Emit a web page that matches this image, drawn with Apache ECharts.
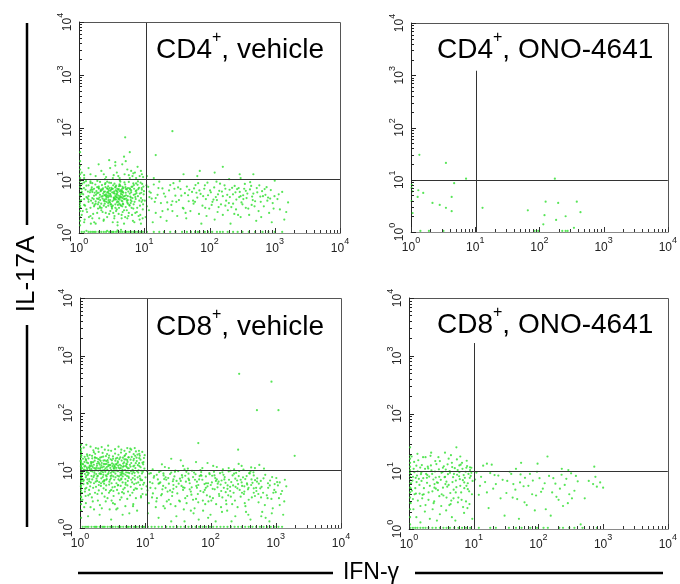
<!DOCTYPE html>
<html><head><meta charset="utf-8">
<script src="https://cdn.jsdelivr.net/npm/echarts@6/dist/echarts.min.js"></script>
<style>html,body{margin:0;padding:0;background:#fff}#c{width:680px;height:584px}</style>
</head><body><div id="c"></div>
<script>
// ---------- data ----------
const decadeTicks = [1, 10, 100, 1000, 10000];
const decadeExponents = ['0', '1', '2', '3', '4'];
const minorTickValues = [2,3,4,5,6,7,8,9,20,30,40,50,60,70,80,90,200,300,400,500,600,700,800,900,2000,3000,4000,5000,6000,7000,8000,9000];
const panelCellType = ['CD4', 'CD4', 'CD8', 'CD8'];
const panelTreatment = ['vehicle', 'ONO-4641', 'vehicle', 'ONO-4641'];
const gateIFN = [10.6, 10.3, 10.7, 10.3];
const gateIL17 = [10.6, 10.0, 10.0, 10.0];
const gateVerticalTop = [10000, 1220, 10000, 1660];

// cells: [IFN-γ, IL-17A]
const cd4VehicleLowLeft = [
[1.1,2.2],[1.2,3.4],[1.1,5.6],[1.3,7.9],[1.2,1.6],[1.4,4.3],[1.5,6.4],[1.3,2.8],[1.6,8.8],[1.5,3.0],
[1.7,5.1],[1.6,1.9],[1.8,4.0],[1.7,6.9],[1.9,2.4],[1.8,3.6],[1.9,7.4],[1.2,9.1],[1.4,5.0],[1.6,4.6],
[1.1,6.8],[1.3,4.8],[1.5,2.1],[1.7,3.2],[1.9,5.7],[1.4,8.0],[1.8,1.5],[1.2,4.4],[1.6,6.0],[1.5,9.5],
[2.0,3.8],[2.1,5.3],[2.2,2.7],[2.3,6.6],[2.4,4.1],[2.5,8.4],[2.6,3.1],[2.7,5.9],[2.8,4.7],[2.9,2.3],
[3.0,6.3],[3.1,3.5],[2.0,7.2],[2.2,4.9],[2.4,1.8],[2.6,5.4],[2.8,7.7],[3.0,4.2],[3.2,2.9],[2.1,3.0],
[2.3,4.5],[2.5,6.1],[2.7,2.0],[2.9,5.0],[3.1,8.9],[2.0,5.8],[2.2,6.7],[2.4,3.3],[2.6,4.4],[2.8,3.7],
[3.0,5.5],[3.2,6.8],[2.1,9.3],[2.3,2.5],[2.5,4.0],[2.7,7.0],[2.9,3.9],[3.1,4.9],[2.5,5.2],[2.8,6.0],
[3.3,3.3],[3.4,5.7],[3.5,4.5],[3.6,7.3],[3.7,2.6],[3.8,6.2],[3.9,4.0],[4.0,5.1],[4.1,3.0],[4.2,8.1],
[4.3,4.7],[4.4,6.5],[4.5,2.2],[4.6,5.3],[4.7,3.6],[4.8,7.1],[4.9,4.4],[3.3,6.9],[3.5,2.1],[3.7,4.8],
[3.9,5.9],[4.1,7.7],[4.3,3.4],[4.5,4.1],[4.7,6.0],[4.9,2.7],[3.4,4.2],[3.6,5.0],[3.8,3.8],[4.0,6.6],
[4.2,4.3],[4.4,5.5],[4.6,3.2],[4.8,4.9],[3.5,8.6],[3.9,1.6],[4.3,9.4],[4.6,6.9],[3.6,3.5],[4.1,4.6],
[5.0,5.0],[5.2,3.1],[5.4,6.7],[5.6,4.2],[5.8,2.4],[6.0,5.6],[6.2,3.7],[6.4,7.5],[6.6,4.6],[6.8,2.9],
[5.1,8.3],[5.3,4.5],[5.5,1.9],[5.7,6.1],[5.9,3.4],[6.1,4.9],[6.3,6.4],[6.5,2.2],[6.9,5.3],[5.2,5.8],
[5.6,3.6],[6.0,7.0],[6.4,4.0],[6.8,8.7],[5.4,2.7],
[7.1,3.9],[7.4,6.2],[7.7,2.5],[8.0,5.0],[8.3,7.2],[8.6,3.3],[8.9,4.6],[9.2,6.6],[9.5,2.8],[9.8,5.4],
[7.3,4.8],[7.9,8.2],[8.5,1.8],[9.1,3.9],[9.7,7.6],[7.6,5.7],[8.2,2.1],[8.8,9.0],[9.4,4.2],[7.0,6.9],
[2.05,4.7],[2.35,5.6],[2.65,3.9],[3.05,5.2],[3.25,4.0],[3.45,6.1],[3.75,5.3],[3.95,3.4],[4.25,5.0],[4.55,6.3],
[2.15,6.2],[2.45,4.3],[2.75,5.1],[3.15,3.2],[3.55,4.4],[3.85,6.9],[4.15,3.6],[4.45,4.8],[4.75,5.8],[5.05,4.4],
[1.95,3.5],[2.55,7.4],[2.85,6.5],[3.35,2.4],[3.65,6.4],[4.05,2.3],[4.65,7.5],[5.25,6.8],[5.6,5.0],[6.2,4.2],
[1.08,4.2],[1.19,7.1],[1.33,2.5],[1.47,5.9],[1.62,3.7],[1.78,8.3],[1.96,2.9],[2.16,6.4],[2.38,1.7],[2.63,4.8],
[2.9,9.0],[3.2,3.1],[3.53,5.6],[3.9,1.4],[4.3,7.8],[4.75,3.5],[5.25,5.2],[5.8,9.3],[6.4,3.0],[7.05,1.6],
[1.12,8.6],[1.24,3.3],[1.37,6.1],[1.52,1.5],[1.68,4.4],[1.85,6.2],[2.04,1.9],[2.25,8.1],[2.48,3.6],[2.74,6.9],
[3.02,2.6],[3.34,8.0],[3.68,4.3],[4.07,6.8],[4.5,1.9],[4.97,9.1],[5.5,3.8],[6.07,6.7],[6.7,1.7],[7.4,4.4],
[1.05,3.0],[1.16,5.4],[1.28,9.6],[1.42,2.0],[1.57,7.3],[1.73,3.4],[1.91,9.7],[2.11,4.2],[2.33,7.0],[2.57,2.4],
[2.84,5.6],[3.14,7.2],[3.47,1.9],[3.83,4.7],[4.23,9.9],[4.67,2.5],[5.16,7.4],[5.7,2.1],[6.3,5.9],[6.95,8.1],
[1.1,6.0],[1.22,1.8],[1.35,4.6],[1.5,8.9],[1.65,2.3],[1.82,5.3],[2.01,7.6],[2.22,3.0],[2.45,5.2],[2.7,9.4],
[2.98,3.8],[3.29,1.6],[3.63,7.5],[4.01,3.9],[4.43,6.0],[4.9,1.5],[5.41,4.1],[5.97,3.3],[6.6,7.6],[7.3,2.4],
[1.14,2.6],[1.26,6.6],[1.4,3.9],[1.55,6.7],[1.71,1.6],[1.89,4.5],[2.09,3.2],[2.3,5.0],[2.54,8.8],[2.81,3.3],
[3.1,6.6],[3.43,4.6],[3.79,2.8],[4.18,8.4],[4.62,4.0],[5.1,2.0],[5.63,7.1],[6.23,4.7],[6.88,3.5],[7.6,6.4],
[7.8,3.0],[8.1,6.8],[8.4,4.1],[8.7,2.2],[9.0,5.8],[9.3,8.5],[9.6,3.5],[9.9,6.2],[8.0,9.5],[8.9,1.5],
[7.5,8.7],[9.45,1.9],[7.25,5.4],[8.55,5.6],[9.15,7.1],
[1.53,4.1],[1.74,5.8],[1.98,4.4],[2.19,3.6],[2.41,6.0],[2.61,5.0],[2.83,4.2],[3.04,3.5],[3.22,5.9],[3.41,4.7],
[3.61,3.0],[3.81,5.5],[4.02,4.4],[4.22,6.2],[4.41,3.3],[4.63,4.6],[1.62,6.6],[2.02,6.9],[2.93,7.1],[3.71,7.9]
];
const cd4VehicleEdges = [
[1.04,1.4],[1.04,2.0],[1.04,2.6],[1.04,3.3],[1.04,4.1],[1.04,4.9],[1.04,5.8],[1.04,6.9],[1.04,8.1],[1.04,9.6],
[1.04,11],[1.04,13],[1.04,16],[1.04,19],[1.04,1.7],[1.04,3.7],[1.04,7.5],[1.04,23],[1.04,5.3],[1.04,3.0],
[1.1,1.05],[1.2,1.05],[1.4,1.05],[1.5,1.05],[1.7,1.05],[1.8,1.05],[2.0,1.05],[2.2,1.05],[2.4,1.05],[2.6,1.05],
[2.9,1.05],[3.1,1.05],[3.4,1.05],[3.7,1.05],[4.0,1.05],[4.3,1.05],[4.6,1.05],[5.0,1.05],[5.4,1.05],[5.8,1.05],
[6.3,1.05],[6.8,1.05],[7.4,1.05],[8.0,1.05],[8.7,1.05],[9.5,1.05],[3.9,1.12],[4.4,1.15],[1.3,1.1],[2.7,1.1],
[11,1.05],[14,1.05],[17,1.05],[20,1.05],[25,1.05],[30,1.05],[38,1.05],[45,1.05],[52,1.05],[60,1.05],
[70,1.05],[85,1.05],[95,1.05],[110,1.05],[130,1.05],[160,1.05],[190,1.05],[230,1.05],[270,1.05],[320,1.05],
[400,1.05],[500,1.05],[650,1.05],[800,1.05],[1000,1.05],[1300,1.05],[1.6,1.05],[3.3,1.05],[66,1.05],[145,1.05]
];
const cd4VehicleHigh = [
[1.2,11],[1.5,13],[1.8,12],[2.2,15],[2.6,11.5],[3.0,17],[3.4,12.5],[3.8,14],[4.2,11],[4.6,20],
[5.0,13],[5.5,16],[6.0,11],[6.6,12],[7.2,14],[7.9,18],[8.5,12],[9.2,13],[1.4,17],[2.0,20],
[2.9,24],[3.6,19],[4.9,28],[6.3,15],[7.5,11],[8.9,15],[5.2,23],[6.8,13.5],[4.0,12],[2.4,13],
[1.1,14],[9.6,11.5],[1.2,12.5],[2.5,10.5],[3.3,11],[5.8,12.5],
[11,12],[14,11],[65,12],[71,15],[160,18],[470,13],[290,13],[1000,9.8],[300,11],[200,10.5],[40,13],[120,14],
[5.1,65],[27,85],[1.04,34],[6,34],[15,30],[3.6,22]
];
const cd4VehicleLowRight = [
[11,3.2],[12,6.1],[13,4.5],[14,8.3],[15,2.4],[16,5.3],[18,3.7],[19,7.0],[21,4.9],[23,2.8],
[24,6.4],[26,3.4],[28,8.8],[30,5.1],[32,2.1],[34,4.2],[36,6.8],[39,3.0],[42,5.7],[45,7.6],
[48,4.0],[51,2.6],[54,6.0],[57,3.6],[61,8.1],[65,4.7],[69,2.3],[73,5.5],[78,3.3],[83,6.9],
[88,4.4],[93,9.0],[99,2.9],[105,5.9],[111,3.9],[118,7.3],[125,4.8],[133,2.5],[141,6.3],[150,3.5],
[160,5.0],[170,8.0],[180,4.1],[191,2.7],[203,6.6],[216,3.1],[229,5.4],[243,7.8],[258,4.3],[274,2.2],
[291,6.0],[309,3.8],[328,5.2],[348,8.5],[370,4.6],[393,2.9],[417,6.7],[443,3.4],[470,5.6],[500,4.0],
[530,7.1],[565,2.6],[600,4.9],[640,6.2],[680,3.2],[720,5.3],[770,4.1],[820,2.4],[870,6.5],[930,3.7],
[990,5.0],[1100,4.4],[1200,2.8],[1400,1.8],[1600,3.8],[1300,6.0],
[10.5,2.0],[11.5,7.5],[13.5,1.6],[17,9.4],[22,1.7],[27,4.0],[35,9.6],[44,1.9],[58,7.0],[75,1.5],
[95,5.2],[120,1.8],[145,8.6],[175,6.9],[210,1.5],[250,5.9],[300,2.0],[360,3.0],[420,9.2],[520,1.7],
[620,2.0],[750,7.4],[900,1.6],[130,4.2],[230,3.6],[330,4.4],[63,5.8],[40,2.9],[86,3.0],[160,2.2],
[280,7.1],[450,4.9],[29,6.9],[19,2.6],[12,4.8],
[10.2,4.1],[10.8,8.0],[11.8,2.7],[12.6,5.8],[14.5,3.9],[16.5,7.1],[17.8,2.0],[20,5.6],[22.5,3.8],[25,8.1],
[31,3.9],[37,5.1],[43,2.4],[49,6.6],[56,4.1],[67,8.8],[80,5.0],[90,2.1],[102,6.4],[115,4.3],
[128,9.4],[138,3.1],[155,6.1],[187,5.3],[198,3.7],[222,7.2],[240,2.3],[265,6.8],[285,4.8],[320,3.5],
[340,6.9],[380,5.6],[405,2.2],[435,7.8],[490,3.2],[540,5.9],[610,3.9],[700,6.8],[790,4.7],[960,2.9],
[15,4.6],[27,2.6],[33,7.3],[47,5.2],[60,3.9],[70,6.4],[85,8.0],[108,3.4],[135,5.4],[175,3.3],
[205,4.8],[255,2.8],[300,5.0],[360,6.3],[460,4.2],[580,8.0],[660,5.0],[850,4.5],[1150,5.4],[1500,2.5]
];

const cd4Ono = [
[1.35,30],[3.5,21],[7.2,10.5],[4.7,8.6],[1.03,8.0],[1.05,6.0],[1.3,6.3],[1.55,5.6],[1.27,4.7],[1.02,3.9],
[2.16,3.6],[2.8,3.3],[4.3,4.7],[3.5,2.9],[4.3,2.5],[1.06,2.3],[13,2.9],[66,2.6],[125,3.8],[196,3.6],
[382,3.8],[436,2.4],[120,2.1],[182,1.7],[256,2.0],[115,1.4],[345,1.2],[174,10.5],[1.9,1.05],[3.2,1.05],
[1.4,1.05],[84,1.05],[96,1.05],[227,1.05],[256,1.05],[275,1.05],[1.02,7.0]
];

const cd8VehicleLowLeft = [
[1.06,8.3],[1.24,15.1],[1.52,3.4],[1.93,21],[2.35,6.6],[2.9,12.5],[3.6,2.1],[4.5,9.8],[5.6,17],[7.1,4.9],
[1.12,12.8],[1.38,4.6],[1.71,19.5],[2.12,7.3],[2.62,10.4],[3.2,2.7],[4.0,15.8],[5.0,5.7],[6.3,8.8],[8.0,22],
[1.03,5.3],[1.29,10.6],[1.61,7.7],[2.02,2.5],[2.5,17.8],[3.05,8.2],[3.8,13.6],[4.7,4.0],[5.9,24],[7.5,9.7],
[1.18,17.3],[1.46,6.2],[1.82,12.1],[2.25,9.3],[2.78,4.1],[3.45,19.7],[4.3,7.2],[5.3,15.2],[6.7,4.6],[8.5,11.4],
[1.09,3.1],[1.33,13.4],[1.66,9.1],[2.07,14.7],[2.56,7.9],[3.15,5.1],[3.9,11.2],[4.9,18.4],[6.1,6.9],[7.8,6.2],
[1.21,10.1],[1.5,8.0],[1.88,14.2],[2.3,4.9],[2.85,12.3],[3.55,16.1],[4.4,9.0],[5.45,4.3],[6.9,8.1],[9.0,21],
[1.14,6.8],[1.41,18.6],[1.76,5.2],[2.18,11.3],[2.7,13.9],[3.35,6.9],[4.15,9.2],[5.15,13.1],[6.5,2.4],[8.2,8.0],
[1.27,13.8],[1.57,2.9],[1.97,6.3],[2.43,12.9],[3.0,10.2],[3.75,8.1],[4.6,4.7],[5.75,21],[7.3,6.0],[9.4,14.0],
[1.04,21.5],[1.36,9.0],[1.69,17.0],[2.1,6.0],[2.6,19.3],[3.25,4.4],[4.05,10.8],[5.05,12.0],[6.4,10.3],[8.8,4.8],
[1.16,2.3],[1.44,11.8],[1.79,7.2],[2.22,20.2],[2.74,9.0],[3.4,11.6],[4.25,20.5],[5.25,8.0],[6.6,15.0],[8.4,7.2],
[1.23,7.6],[1.54,16.3],[1.91,9.9],[2.38,3.5],[2.95,15.7],[3.65,10.0],[4.5,6.2],[5.6,10.9],[7.0,18.0],[9.2,9.5],
[1.08,11.0],[1.31,5.9],[1.63,12.6],[2.04,16.8],[2.52,5.5],[3.1,13.3],[3.85,5.6],[4.8,15.6],[6.0,5.2],[7.7,12.4],
[1.19,4.3],[1.48,13.1],[1.85,3.9],[2.28,8.4],[2.82,6.4],[3.5,7.6],[4.35,14.9],[5.4,6.6],[6.8,12.2],[8.6,3.4],
[1.11,16.0],[1.39,7.1],[1.73,10.7],[2.15,13.5],[2.66,8.6],[3.3,9.4],[4.1,3.1],[5.1,9.3],[6.45,7.4],[8.1,16.4],
[1.26,9.4],[1.59,5.0],[1.99,15.4],[2.46,10.9],[3.05,3.0],[3.8,14.4],[4.7,11.9],[5.85,3.7],[7.4,14.6],[9.6,6.1],
[1.02,14.6],[1.34,3.7],[1.68,14.8],[2.09,5.4],[2.58,11.5],[3.2,17.6],[3.95,7.9],[4.95,7.1],[6.2,17.2],[7.9,10.1],
[1.13,5.8],[1.42,10.2],[1.77,8.7],[2.2,10.0],[2.72,22.5],[3.38,12.0],[4.2,5.4],[5.2,11.5],[6.55,9.5],[8.3,5.6],
[1.28,19.0],[1.55,9.6],[1.94,4.5],[2.4,15.0],[2.98,7.3],[3.7,4.6],[4.55,16.7],[5.7,9.0],[7.2,3.3],[9.3,12.8],
[1.07,9.9],[1.3,7.0],[1.65,11.0],[2.05,8.9],[2.54,14.5],[3.12,9.6],[3.88,18.8],[4.85,5.0],[6.1,13.5],[7.6,18.9],
[1.2,12.0],[1.47,14.0],[1.83,6.6],[2.27,17.5],[2.8,5.7],[3.48,14.8],[4.32,8.5],[5.35,14.1],[6.75,5.8],[8.7,9.9],
[1.1,7.1],[1.37,11.4],[1.7,4.1],[2.13,12.3],[2.64,3.3],[3.28,11.1],[4.08,12.6],[5.08,19.5],[6.35,4.1],[8.05,13.4],
[1.25,5.0],[1.53,18.0],[1.9,10.9],[2.36,6.8],[2.92,11.1],[3.62,6.0],[4.48,10.4],[5.55,7.8],[7.05,11.0],[9.1,3.9],
[1.05,18.2],[1.32,8.4],[1.64,6.0],[2.03,10.7],[2.5,8.2],[3.08,15.0],[3.82,9.7],[4.75,13.8],[5.95,11.7],[7.65,7.6],
[1.17,11.7],[1.45,2.3],[1.8,16.5],[2.24,7.7],[2.76,16.6],[3.42,2.6],[4.28,7.0],[5.3,3.2],[6.7,16.0],[8.45,15.4],
[1.22,3.6],[1.51,12.2],[1.87,8.1],[2.32,13.0],[2.88,4.4],[3.58,12.7],[4.42,4.2],[5.5,16.9],[6.95,7.0],[8.95,6.8],
[1.03,11.8],[1.12,6.5],[1.22,15.8],[1.31,9.3],[1.43,5.3],[1.56,11.6],[1.7,16.6],[1.85,7.9],[2.0,12.7],[2.17,4.0],
[2.36,10.3],[2.57,7.1],[2.8,18.2],[3.05,6.0],[3.32,10.7],[3.6,13.0],[3.92,4.0],[4.27,12.1],[4.65,8.8],[5.05,15.6],
[1.07,4.1],[1.17,14.1],[1.27,11.3],[1.38,6.5],[1.5,10.6],[1.63,20.8],[1.78,11.2],[1.94,5.6],[2.1,8.7],[2.29,14.9],
[2.49,4.6],[2.71,11.9],[2.95,8.0],[3.21,16.0],[3.49,8.8],[3.8,5.5],[4.14,16.9],[4.51,7.9],[4.9,10.2],[5.33,5.5],
[1.1,9.4],[1.2,4.8],[1.3,17.8],[1.41,12.2],[1.54,7.0],[1.67,9.9],[1.82,13.1],[1.98,8.8],[2.15,17.1],[2.34,5.9],
[2.55,13.0],[2.77,9.8],[3.01,4.6],[3.28,12.8],[3.57,11.1],[3.88,7.0],[4.22,11.0],[4.59,13.2],[4.99,6.1],[5.43,9.2],
[1.05,7.3],[1.15,10.4],[1.25,8.1],[1.35,16.2],[1.47,9.8],[1.6,14.0],[1.74,6.4],[1.9,15.8],[2.06,11.4],[2.24,6.4],
[2.44,9.5],[2.65,15.1],[2.89,6.9],[3.14,11.9],[3.42,5.2],[3.72,16.6],[4.05,6.7],[4.41,9.5],[4.8,17.8],[5.22,12.8],
[5.6,7.4],[5.8,12.6],[6.05,9.7],[6.3,6.2],[6.55,11.8],[6.85,9.1],[7.15,13.4],[7.45,4.8],[7.8,9.2],[8.15,11.9],
[8.5,6.8],[8.9,8.9],[9.3,5.7],[9.7,10.8],[5.95,15.4],[6.65,19.2],[7.35,16.7],[8.25,18.1],[9.05,13.6],[9.55,16.5],
[1.09,13.0],[1.19,8.7],[1.29,6.1],[1.4,10.9],[1.52,13.8],[1.65,8.2],[1.79,10.1],[1.95,13.4],[2.12,9.6],[2.31,11.7],
[2.52,6.9],[2.74,12.6],[2.98,9.1],[3.24,7.9],[3.52,10.0],[3.84,12.2],[4.18,8.3],[4.55,11.6],[4.95,8.4],[5.38,10.9],
[1.04,3.4],[1.23,2.7],[1.42,3.9],[1.64,2.1],[1.88,3.0],[2.16,2.2],[2.48,2.9],[2.85,2.1],[3.27,3.6],[3.76,2.2],
[4.32,3.4],[4.96,2.4],[5.7,1.8],[6.55,2.6],[7.5,2.0],[8.6,3.6],[1.33,1.6],[2.0,1.7],[3.0,1.4],[4.5,1.7],
[1.14,25],[1.45,26],[1.9,24],[2.4,23],[3.0,22],[3.9,26],[4.8,22],[6.1,23],[1.25,28],[2.7,27],
[1.6,22.5],[2.15,25.5],[3.45,23.5],[5.3,24.5],[7.2,21.5],[8.1,19.5],[6.9,24.5],[4.3,23],[1.75,24.5],[9.8,18.5]
];
const cd8VehicleEdges = [
[1.04,2],[1.04,3],[1.04,4],[1.04,5],[1.04,6],[1.04,7],[1.04,8],[1.04,9],[1.04,10],[1.04,11.5],
[1.04,13],[1.04,15],[1.04,17],[1.04,20],[1.04,24],[1.04,28],[1.04,2.6],[1.04,3.5],[1.04,4.5],[1.04,5.5],
[1.04,6.5],[1.04,7.5],[1.04,8.5],[1.04,9.5],[1.04,12],[1.04,14],[1.04,1.5],[1.04,10.7],[1.04,18.5],[1.04,6.9],
[1.1,1.05],[1.2,1.05],[1.35,1.05],[1.5,1.05],[1.65,1.05],[1.8,1.05],[2.0,1.05],[2.2,1.05],[2.4,1.05],[2.65,1.05],
[2.9,1.05],[3.2,1.05],[3.5,1.05],[3.85,1.05],[4.2,1.05],[4.6,1.05],[5.1,1.05],[5.6,1.05],[6.1,1.05],[6.7,1.05],
[7.4,1.05],[8.1,1.05],[8.9,1.05],[9.7,1.05],[11,1.05],[12.5,1.05],[14,1.05],[16,1.05],[18,1.05],[21,1.05],
[24,1.05],[27,1.05],[31,1.05],[35,1.05],[40,1.05],[46,1.05],[52,1.05],[59,1.05],[67,1.05],[76,1.05],
[86,1.05],[98,1.05],[110,1.05],[125,1.05],[142,1.05],[160,1.05],[182,1.05],[206,1.05],[234,1.05],[265,1.05],
[300,1.05],[340,1.05],[385,1.05],[440,1.05],[500,1.05],[570,1.05],[650,1.05],[740,1.05],[840,1.05],[960,1.05],
[1100,1.05],[1250,1.05],[1.28,1.05],[1.73,1.05],[2.3,1.05],[3.05,1.05],[4.0,1.05],[5.35,1.05],[7.0,1.05],[9.3,1.05]
];
const cd8VehicleLowRight = [
[10.5,5.3],[15,8.4],[23,3.1],[35,6.6],[52,9.9],[78,4.2],[118,7.4],[175,2.6],[265,5.8],[400,8.9],
[11.3,2.7],[16.5,6.0],[25,9.2],[38,4.6],[57,2.2],[85,7.9],[128,5.1],[190,9.6],[290,3.5],[440,6.1],
[12.2,9.0],[18,3.9],[27,5.6],[41,8.1],[62,5.0],[93,2.9],[140,9.0],[208,6.3],[315,7.6],[480,3.6],
[13.1,4.0],[19.5,7.1],[29,2.4],[44,3.6],[67,7.0],[101,5.6],[152,3.4],[226,4.1],[343,2.4],[520,7.3],
[10.1,7.6],[14.3,4.9],[21,6.9],[32,9.7],[48,6.0],[72,9.4],[109,3.3],[165,7.7],[247,9.1],[375,4.7],
[11.8,6.3],[17.2,9.8],[26,4.2],[39,2.1],[59,8.6],[88,3.7],[133,6.4],[200,5.2],[300,6.2],[455,9.3],
[12.7,3.4],[18.8,5.4],[28,7.9],[42,6.4],[64,3.9],[97,8.6],[146,4.4],[218,8.2],[330,4.3],[500,5.0],
[13.7,8.0],[20,2.2],[30,5.2],[46,8.8],[70,4.4],[105,6.2],[158,8.4],[237,3.0],[358,8.0],[545,2.8],
[10.8,4.5],[15.6,7.0],[24,8.7],[36,5.4],[54,7.7],[81,5.8],[122,2.6],[182,4.8],[275,9.8],[420,5.6],
[14.8,2.9],[22,4.3],[33,3.0],[50,4.3],[75,6.9],[113,9.5],[170,6.1],[256,6.7],[385,3.1],[590,6.6],
[16,5.9],[24.5,2.6],[37,7.6],[56,9.2],[83,2.6],[125,7.0],[187,3.7],[280,4.6],[425,7.0],[640,4.1],
[17.5,3.7],[26.5,6.5],[40,5.0],[60,3.2],[90,5.3],[135,3.9],[202,9.9],[305,5.4],[460,8.2],[690,8.4],
[19,8.9],[28.5,9.5],[43,2.7],[65,5.6],[98,3.5],[148,6.7],[222,5.5],[335,2.7],[505,4.4],[750,3.3],
[20.5,5.0],[31,4.0],[47,6.8],[71,8.3],[106,8.1],[160,5.0],[240,7.2],[362,6.0],[550,5.9],[810,5.5],
[22.5,7.4],[34,7.2],[51,3.8],[77,2.0],[116,4.7],[173,3.0],[260,2.3],[392,9.0],[595,3.4],[880,7.7],
[13,10.5],[20,11.5],[45,10.8],[110,12],[190,11],[320,10.4],[560,12.5],[950,4.6],[1050,6.3],[1200,3.9],
[30,1.6],[55,1.8],[92,1.5],[150,1.9],[240,1.6],[380,1.7],[620,1.9],[900,2.2],[1150,2.5],[700,1.5],
[27,4.8],[62,6.4],[143,5.7],[330,5.3],[760,6.0],[1000,4.2],[85,5.0],[200,4.4],[460,4.9],[1350,2.9],
[11,1.8],[16,1.5],[19,2.4],[25,1.3],[40,1.3],[66,1.4],[120,1.3],[210,1.3],[410,1.4],[800,1.3],
[23,11],[38,12],[75,11],[155,10.5],[270,13],[480,11],[660,10.8],[60,14],[35,15],[25,16],
[10.3,3.8],[11.5,8.8],[12.9,6.0],[14.5,2.3],[16.3,9.4],[18.3,4.7],[20.5,7.6],[23,5.9],[25.8,3.6],[29,10.0],
[32.5,5.9],[36.5,8.3],[41,3.3],[46,7.2],[51.5,5.1],[57.8,6.9],[64.9,2.8],[72.8,8.1],[81.7,4.6],[91.7,6.0],
[103,3.0],[115,8.2],[129,5.9],[145,2.3],[163,7.0],[183,5.5],[205,3.5],[230,8.8],[258,4.9],[290,6.9],
[325,3.9],[365,5.7],[410,9.6],[460,4.1],[516,6.4],[579,4.9],[650,7.3],[730,3.7],[819,6.7],[919,4.1],
[10.7,9.7],[12,5.0],[13.5,7.5],[15.1,3.3],[17,6.2],[19.1,8.2],[21.4,2.9],[24,4.5],[27,7.0],[30.2,6.6],
[34,2.9],[38,5.1],[42.7,9.5],[48,4.7],[54,3.1],[60.6,5.4],[68,8.0],[76.3,3.0],[85.6,6.0],[96,9.0],
[108,4.8],[121,6.6],[136,3.6],[152,9.3],[171,4.2],[192,6.9],[215,2.6],[242,5.2],[271,8.0],[304,4.1],
[341,7.1],[383,5.0],[430,3.4],[482,6.8],[541,3.9],[607,5.2],[681,2.5],[765,5.0],[858,3.2],[963,5.8],
[40,10.5],[70,10.2],[125,11.5],[230,10.5],[420,11.3],[18,12.8],[90,13.5],[300,12],[50,2.0],[100,1.7],
[180,2.0],[350,1.9],[600,1.6],[1080,5.5],[1250,4.4],[1450,5.3],[1120,3.3],[1020,7.4],[870,1.8],[1300,1.7],
[275,480],[860,350],[515,112],[1100,112],[65,30],[1950,18],[265,23],[1380,6.9],[1150,6.2]
];

const cd8OnoLowLeft = [
[1.08,6.2],[1.3,12.5],[1.62,3.9],[2.05,8.1],[2.6,5.0],[3.3,9.7],[4.2,2.6],[5.3,6.9],[6.7,11.0],[8.5,4.5],
[1.15,3.3],[1.42,7.4],[1.8,17.5],[2.3,4.5],[2.9,10.8],[3.65,6.0],[4.6,14.0],[5.8,3.5],[7.3,7.7],[9.2,9.4],
[1.04,9.0],[1.25,5.1],[1.55,9.5],[1.95,12.0],[2.45,3.0],[3.1,7.1],[3.9,5.4],[4.95,9.0],[6.2,5.6],[7.9,12.3],
[1.2,14.5],[1.5,2.5],[1.9,6.3],[2.38,7.2],[3.0,15.0],[3.8,3.5],[4.8,7.9],[6.0,12.6],[7.6,3.0],[9.6,6.8],
[1.11,4.6],[1.36,10.0],[1.7,5.1],[2.15,18.5],[2.7,6.4],[3.45,12.2],[4.35,4.2],[5.5,16.0],[7.0,8.6],[8.8,10.5],
[1.27,7.7],[1.58,12.8],[2.0,3.2],[2.52,9.9],[3.2,4.0],[4.0,8.9],[5.1,11.3],[6.4,4.3],[8.1,6.2],[1.45,5.8],
[1.06,2.8],[1.33,8.4],[1.66,7.6],[2.1,5.6],[2.65,13.3],[3.35,5.2],[4.25,10.1],[5.4,5.3],[6.85,2.4],[8.7,7.7],
[1.18,11.0],[1.46,4.1],[1.84,9.0],[2.32,2.2],[2.93,8.0],[3.7,10.7],[4.7,6.5],[5.95,8.2],[7.5,9.8],[9.4,4.0],
[1.13,6.9],[1.39,15.5],[1.76,2.0],[2.22,10.4],[2.8,4.7],[3.55,7.9],[4.5,3.1],[5.65,10.5],[7.15,5.1],[9.0,8.3],
[1.22,4.0],[1.53,8.9],[1.98,11.2],[2.48,6.0],[3.15,2.5],[3.95,13.2],[4.9,4.8],[6.1,7.3],[7.8,15.2],[3.6,21],
[1.35,20],[2.2,21],[1.65,17.5],[4.1,16.5],[5.4,26],[6.6,14],[7.7,11.5],[8.3,9.0],[2.85,17.5],[1.1,18],
[1.17,2.2],[1.6,3.4],[2.4,2.8],[3.0,1.8],[3.75,2.1],[4.6,1.6],[5.7,2.9],[7.1,1.9],[8.6,2.7],[2.1,1.5],
[1.3,1.6],[1.8,2.6],[2.7,1.4],[3.4,3.8],[4.4,2.7],[5.2,1.4],[6.5,3.2],[8.0,2.3],[9.5,1.5],[1.5,1.3],
[1.07,5.0],[1.21,9.6],[1.37,3.1],[1.56,6.8],[1.77,11.0],[2.01,4.3],[2.28,9.0],[2.59,7.8],[2.94,3.7],[3.34,11.5],
[3.79,6.6],[4.3,9.4],[4.88,3.4],[5.54,8.7],[6.29,13.0],[7.14,6.4],[8.1,4.9],[9.2,11.5],[1.28,4.1],[1.89,7.7],
[1.15,8.0],[1.31,6.5],[1.49,11.6],[1.69,4.0],[1.92,8.6],[2.18,12.6],[2.47,5.2],[2.8,6.3],[3.18,9.4],[3.61,8.0],
[4.1,5.8],[4.65,11.8],[5.28,4.3],[6.0,9.6],[6.8,7.0],[7.72,5.6],[8.76,11.7],[2.55,15],[4.45,19],[6.2,18]
];
const cd8OnoEdges = [
[1.04,1.6],[1.04,2.2],[1.04,2.9],[1.04,3.5],[1.04,4.3],[1.04,5.2],[1.04,6.1],[1.04,7.0],[1.04,8.0],[1.04,9.2],
[1.04,10.5],[1.04,12],[1.04,14],[1.04,16.5],[1.04,19],[1.04,26],[1.04,1.2],
[1.05,1.05],[1.15,1.05],[1.25,1.05],[1.35,1.05],[1.5,1.05],[1.65,1.05],[1.8,1.05],[2.0,1.05],[2.3,1.05],[2.6,1.05],
[3.0,1.05],[3.4,1.05],[3.8,1.05],[4.3,1.05],[5.0,1.05],[5.8,1.05],[6.6,1.05],[7.6,1.05],[8.8,1.05],[12,1.05],
[18,1.05],[22,1.05],[35,1.05],[45,1.05],[55,1.05],[75,1.05],[95,1.05],[120,1.05],[140,1.05],[210,1.05],
[240,1.05],[300,1.05],[360,1.05],[480,1.05],[800,1.05]
];
const cd8OnoLowRight = [
[11,9.5],[13,8.0],[15,6.5],[18,9.3],[20,5.0],[24,8.4],[28,7.1],[32,4.2],[36,9.8],[41,6.0],
[47,3.3],[53,8.8],[59,5.5],[66,2.6],[74,9.0],[82,6.9],[92,3.8],[104,7.6],[117,5.0],[130,2.2],
[146,8.3],[163,4.3],[183,6.1],[205,3.2],[228,8.7],[255,5.8],[285,2.8],[320,9.2],[360,4.6],[405,6.7],
[12,3.9],[17,2.3],[22,6.0],[30,1.7],[40,3.5],[50,1.5],[62,7.7],[88,2.1],[110,4.4],[155,1.7],
[190,3.6],[240,2.5],[300,4.0],[450,1.2],[520,3.4],[760,8.0],[800,5.4],[900,6.4],[700,6.0],[1000,5.2],
[14,12.5],[16,13.5],[19,13],[54,14],[97,13.5],[138,18],[230,11],[290,10.5],[730,12],[45,11],
[10.5,7.2],[12.5,5.6],[16,4.3],[21,8.6],[26,3.4],[33,6.8],[38,9.0],[44,4.8],[52,6.4],[61,2.9],
[70,5.6],[80,4.0],[95,9.8],[125,6.2],[170,7.6],[215,5.0],[270,7.4],[330,3.4],[380,8.3],[600,6.8]
];

const panelData = [
  cd4VehicleLowLeft.concat(cd4VehicleEdges, cd4VehicleHigh, cd4VehicleLowRight),
  cd4Ono,
  cd8VehicleLowLeft.concat(cd8VehicleEdges, cd8VehicleLowRight),
  cd8OnoLowLeft.concat(cd8OnoEdges, cd8OnoLowRight)
];

// ---------- layout ----------
const FONT = '"Liberation Sans", Arial, sans-serif';
const grids = [
  {left: 79, top: 22, width: 261, height: 211},
  {left: 411, top: 23, width: 259, height: 209},
  {left: 80, top: 298, width: 261, height: 230},
  {left: 409, top: 298, width: 263, height: 231}
];
const labelRich = {
  a: {fontSize: 12, fontFamily: FONT, color: '#222', lineHeight: 18, verticalAlign: 'bottom'},
  b: {fontSize: 9, fontFamily: FONT, color: '#222', lineHeight: 10, verticalAlign: 'top'}
};
function decadeLabel(v) {
  const e = Math.round(Math.log10(v));
  return '{a|10}{b|' + decadeExponents[e] + '}';
}
const allTicks = decadeTicks.concat(minorTickValues);
const xAxes = [], yAxes = [], series = [], graphics = [];
grids.forEach((g, i) => {
  g.show = false; g.containLabel = false;
  xAxes.push({
    gridIndex: i, type: 'log', logBase: 10, min: 1, max: 10000, position: 'bottom',
    axisLine: {show: true, lineStyle: {color: '#8a8a8a', width: 1}},
    axisTick: {show: false},
    axisLabel: {show: true, customValues: decadeTicks, margin: 4, formatter: decadeLabel, rich: labelRich},
    splitLine: {show: false}
  });
  yAxes.push({
    gridIndex: i, type: 'log', logBase: 10, min: 1, max: 10000, position: 'left',
    axisLine: {show: true, lineStyle: {color: '#222', width: 1}},
    axisTick: {show: false},
    axisLabel: {show: true, customValues: decadeTicks, rotate: 90, margin: 5, formatter: decadeLabel, rich: labelRich},
    splitLine: {show: false}
  });
  series.push({
    type: 'scatter', xAxisIndex: i, yAxisIndex: i,
    data: panelData[i], symbolSize: 2.2, silent: true,
    itemStyle: {color: 'rgb(45,222,45)'},
    markLine: {
      silent: true, symbol: 'none', animation: false, label: {show: false},
      lineStyle: {color: '#333', width: 1, type: 'solid'},
      emphasis: {disabled: true},
      data: [
        [{coord: [gateIFN[i], 1]}, {coord: [gateIFN[i], gateVerticalTop[i]]}],
        [{coord: [1, gateIL17[i]]}, {coord: [10000, gateIL17[i]]}]
      ]
    }
  });
});

const titlePos = [[156, 48], [437, 48], [156, 325], [437, 323]];
titlePos.forEach((p, i) => {
  graphics.push({
    type: 'text', left: p[0], top: p[1] - 18, z: 100,
    style: {
      text: '{t|' + panelCellType[i] + '}{s|+}{t|, ' + panelTreatment[i] + '}',
      rich: {
        t: {fontSize: 28, fontFamily: FONT, fill: '#000', lineHeight: 34, verticalAlign: 'bottom'},
        s: {fontSize: 16, fontFamily: FONT, fill: '#000', lineHeight: 20, verticalAlign: 'top'}
      }
    }
  });
});
graphics.push({type: 'text', x: 27, y: 274, rotation: Math.PI / 2, z: 100,
  style: {text: 'IL-17A', fontSize: 26, fontFamily: FONT, fill: '#000', align: 'center', verticalAlign: 'middle'}});
graphics.push({type: 'line', shape: {x1: 27, y1: 23, x2: 27, y2: 225}, style: {stroke: '#000', lineWidth: 2.5}});
graphics.push({type: 'line', shape: {x1: 27, y1: 325, x2: 27, y2: 527}, style: {stroke: '#000', lineWidth: 2.5}});
graphics.push({type: 'text', x: 371, y: 573, z: 100,
  style: {text: 'IFN-γ', fontSize: 23, fontFamily: FONT, fill: '#000', align: 'center', verticalAlign: 'middle'}});
graphics.push({type: 'line', shape: {x1: 78, y1: 573, x2: 333, y2: 573}, style: {stroke: '#000', lineWidth: 2.5}});
graphics.push({type: 'line', shape: {x1: 415, y1: 573, x2: 663, y2: 573}, style: {stroke: '#000', lineWidth: 2.5}});

const chart = echarts.init(document.getElementById('c'), null, {renderer: 'canvas'});
chart.setOption({
  animation: false,
  backgroundColor: '#fff',
  grid: grids,
  xAxis: xAxes,
  yAxis: yAxes,
  series: series
});

// panel frames and log-scale tick marks, placed through each panel's own scales
grids.forEach((g, i) => {
  const tl = chart.convertToPixel({seriesIndex: i}, [1, 10000]);
  const br = chart.convertToPixel({seriesIndex: i}, [10000, 1]);
  if (tl && br) {
    const x0 = Math.round(tl[0]) + 0.5, y0 = Math.round(tl[1]) + 0.5;
    const x1 = Math.round(br[0]) + 0.5, y1 = Math.round(br[1]) + 0.5;
    graphics.push({type: 'polyline', z: 95,
      shape: {points: [[x0, y0], [x1, y0], [x1, y1]]},
      style: {stroke: '#555', lineWidth: 1, fill: null}});
  }
  allTicks.forEach(v => {
    const len = decadeTicks.indexOf(v) >= 0 ? 5 : 3;
    const px = chart.convertToPixel({seriesIndex: i}, [v, 1]);
    const py = chart.convertToPixel({seriesIndex: i}, [1, v]);
    if (px) {
      const x = Math.round(px[0]) + 0.5;
      graphics.push({type: 'line', z: 100,
        shape: {x1: x, y1: px[1], x2: x, y2: px[1] - len},
        style: {stroke: '#333', lineWidth: 1}});
    }
    if (py) {
      const y = Math.round(py[1]) + 0.5;
      graphics.push({type: 'line', z: 100,
        shape: {x1: py[0], y1: y, x2: py[0] + len, y2: y},
        style: {stroke: '#222', lineWidth: 1}});
    }
  });
});
chart.setOption({graphic: graphics});
</script></body></html>
